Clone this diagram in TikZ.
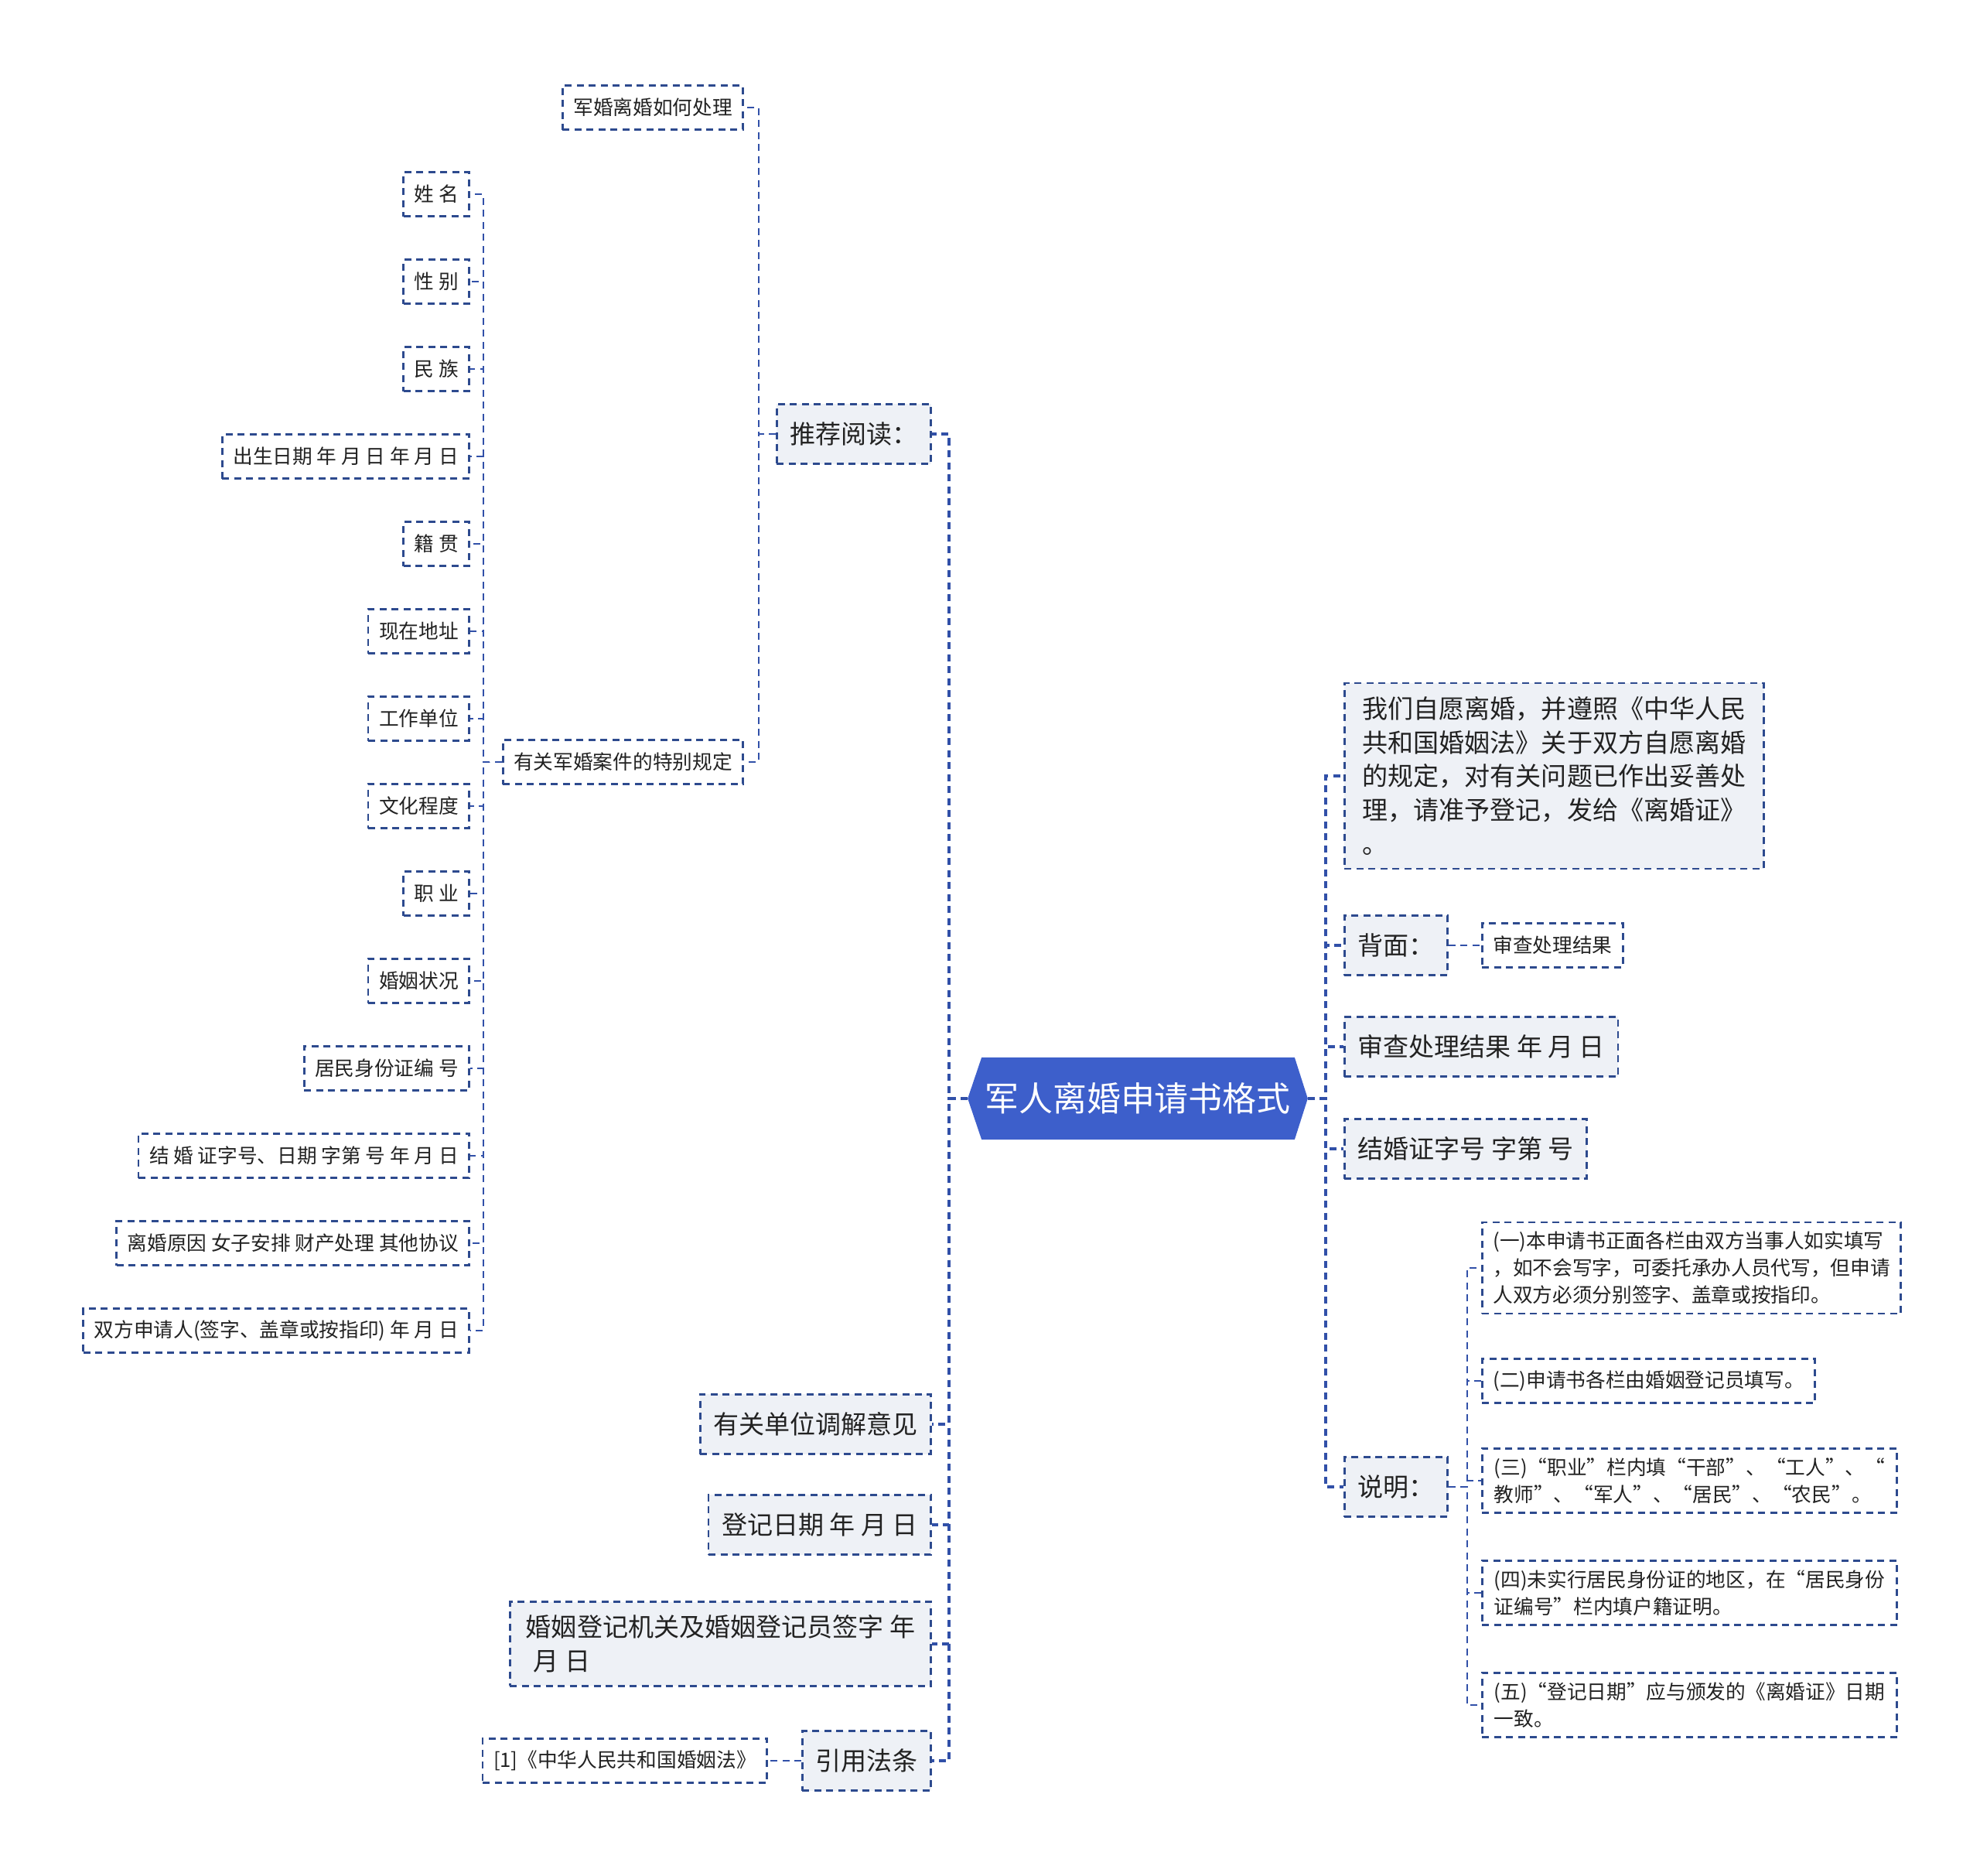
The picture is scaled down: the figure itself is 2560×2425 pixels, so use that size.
\documentclass[tikz,border=0pt]{standalone}
\usepackage{fontspec}
\setmainfont{Noto Sans CJK SC}
\newfontfamily\fwfont[RawFeature=+fwid]{Noto Sans CJK SC}
\newcommand{\zhlq}{{\fwfont “}}
\newcommand{\zhrq}{{\fwfont ”}}
\usetikzlibrary{backgrounds}
\definecolor{rootblue}{HTML}{3D5FCB}
\definecolor{linkblue}{HTML}{3150A8}
\definecolor{boxline}{HTML}{2D4A8E}
\definecolor{topicfill}{HTML}{EEF1F6}
\definecolor{inktext}{HTML}{222222}

\begin{document}
\begin{tikzpicture}[x=0.01cm, y=-0.01cm, every node/.style={text=inktext},
    rootbox/.style={minimum width=4.38cm, minimum height=1.05cm, inner sep=0pt, text=white, font=\fontsize{12.5}{15}\selectfont},
    topic/.style={draw=boxline, fill=topicfill, line width=0.026cm, dash pattern=on 0.09cm off 0.065cm, minimum height=0.77cm, inner xsep=0.17cm, inner ysep=0.17cm, align=left, font=\fontsize{9.4}{12.5}\selectfont},
    leaf/.style={draw=boxline, fill=white, line width=0.026cm, dash pattern=on 0.09cm off 0.065cm, minimum height=0.57cm, inner xsep=0.14cm, inner ysep=0.12cm, align=left, font=\fontsize{7.3}{10}\selectfont},
    trunk/.style={draw=linkblue, line width=0.036cm, dash pattern=on 0.09cm off 0.065cm},
    twig/.style={draw=linkblue, line width=0.024cm, dash pattern=on 0.09cm off 0.065cm}]
    \useasboundingbox (0,0) rectangle (2560,2425);

    % centre
    \node[rootbox] (root) at (1471,1420) {军人离婚申请书格式};
    \begin{scope}[on background layer]
        \fill[rootblue] ([xshift=0.18cm]root.north west) -- ([xshift=-0.17cm]root.north east) -- (root.east) -- ([xshift=-0.17cm]root.south east) -- ([xshift=0.18cm]root.south west) -- (root.west) -- cycle;
    \end{scope}

    % right side
    \node[topic, anchor=west, minimum width=5.42cm] (vow) at (1737,1003) {我们自愿离婚，并遵照《中华人民\\共和国婚姻法》关于双方自愿离婚\\的规定，对有关问题已作出妥善处\\理，请准予登记，发给《离婚证》\\。};
    \node[topic, anchor=west] (back) at (1737,1222) {背面：};
    \node[leaf, anchor=west] (backres) at (1915,1222) {审查处理结果};
    \node[topic, anchor=west] (review) at (1737,1353) {审查处理结果 年 月 日};
    \node[topic, anchor=west] (certno) at (1737,1485) {结婚证字号 字第 号};
    \node[topic, anchor=west] (notes) at (1737,1922) {说明：};
    \node[leaf, anchor=west, minimum width=5.36cm] (n1) at (1915,1639) {(一)本申请书正面各栏由双方当事人如实填写\\，如不会写字，可委托承办人员代写，但申请\\人双方必须分别签字、盖章或按指印。};
    \node[leaf, anchor=west] (n2) at (1915,1785) {(二)申请书各栏由婚姻登记员填写。};
    \node[leaf, anchor=west, minimum width=5.36cm] (n3) at (1915,1914) {(三)\zhlq 职业\zhrq 栏内填\zhlq 干部\zhrq 、\zhlq 工人\zhrq 、\zhlq\\教师\zhrq 、\zhlq 军人\zhrq 、\zhlq 居民\zhrq 、\zhlq 农民\zhrq 。};
    \node[leaf, anchor=west, minimum width=5.36cm] (n4) at (1915,2059) {(四)未实行居民身份证的地区，在\zhlq 居民身份\\证编号\zhrq 栏内填户籍证明。};
    \node[leaf, anchor=west, minimum width=5.36cm] (n5) at (1915,2204) {(五)\zhlq 登记日期\zhrq 应与颁发的《离婚证》日期\\一致。};

    % left side
    \node[topic, anchor=east] (read) at (1205,561) {推荐阅读：};
    \node[leaf, anchor=east] (howto) at (962,139) {军婚离婚如何处理};
    \node[leaf, anchor=east] (rules) at (962,985) {有关军婚案件的特别规定};
    \node[leaf, anchor=east] (f0) at (608,251) {姓 名};
    \node[leaf, anchor=east] (f1) at (608,364) {性 别};
    \node[leaf, anchor=east] (f2) at (608,477) {民 族};
    \node[leaf, anchor=east] (f3) at (608,590) {出生日期 年 月 日 年 月 日};
    \node[leaf, anchor=east] (f4) at (608,703) {籍 贯};
    \node[leaf, anchor=east] (f5) at (608,816) {现在地址};
    \node[leaf, anchor=east] (f6) at (608,929) {工作单位};
    \node[leaf, anchor=east] (f7) at (608,1042) {文化程度};
    \node[leaf, anchor=east] (f8) at (608,1155) {职 业};
    \node[leaf, anchor=east] (f9) at (608,1268) {婚姻状况};
    \node[leaf, anchor=east] (f10) at (608,1381) {居民身份证编 号};
    \node[leaf, anchor=east] (f11) at (608,1494) {结 婚 证字号、日期 字第 号 年 月 日};
    \node[leaf, anchor=east] (f12) at (608,1607) {离婚原因 女子安排 财产处理 其他协议};
    \node[leaf, anchor=east] (f13) at (608,1720) {双方申请人(签字、盖章或按指印) 年 月 日};
    \node[topic, anchor=east] (mediate) at (1205,1841) {有关单位调解意见};
    \node[topic, anchor=east] (regdate) at (1205,1971) {登记日期 年 月 日};
    \node[topic, anchor=east, minimum width=5.44cm] (office) at (1205,2125) {婚姻登记机关及婚姻登记员签字 年\\\hspace*{0.3em}月 日};
    \node[topic, anchor=east] (law) at (1205,2276) {引用法条};
    \node[leaf, anchor=east] (lawref) at (993,2276) {[1]《中华人民共和国婚姻法》};

    % connectors
    \draw[trunk] (root.east) -- ++(23,0) |- (vow.west);
    \draw[trunk] (root.east) -- ++(23,0) |- (back.west);
    \draw[trunk] (root.east) -- ++(23,0) |- (review.west);
    \draw[trunk] (root.east) -- ++(23,0) |- (certno.west);
    \draw[trunk] (root.east) -- ++(23,0) |- (notes.west);
    \draw[trunk] (root.west) -- ++(-24,0) |- (read.east);
    \draw[trunk] (root.west) -- ++(-24,0) |- (mediate.east);
    \draw[trunk] (root.west) -- ++(-24,0) |- (regdate.east);
    \draw[trunk] (root.west) -- ++(-24,0) |- (office.east);
    \draw[trunk] (root.west) -- ++(-24,0) |- (law.east);
    \draw[twig] (back.east) -- (backres.west);
    \draw[twig] (notes.east) -- ++(24,0) |- (n1.west);
    \draw[twig] (notes.east) -- ++(24,0) |- (n2.west);
    \draw[twig] (notes.east) -- ++(24,0) |- (n3.west);
    \draw[twig] (notes.east) -- ++(24,0) |- (n4.west);
    \draw[twig] (notes.east) -- ++(24,0) |- (n5.west);
    \draw[twig] (read.west) -- ++(-22,0) |- (howto.east);
    \draw[twig] (read.west) -- ++(-22,0) |- (rules.east);
    \draw[twig] (rules.west) -- ++(-24,0) |- (f0.east);
    \draw[twig] (rules.west) -- ++(-24,0) |- (f1.east);
    \draw[twig] (rules.west) -- ++(-24,0) |- (f2.east);
    \draw[twig] (rules.west) -- ++(-24,0) |- (f3.east);
    \draw[twig] (rules.west) -- ++(-24,0) |- (f4.east);
    \draw[twig] (rules.west) -- ++(-24,0) |- (f5.east);
    \draw[twig] (rules.west) -- ++(-24,0) |- (f6.east);
    \draw[twig] (rules.west) -- ++(-24,0) |- (f7.east);
    \draw[twig] (rules.west) -- ++(-24,0) |- (f8.east);
    \draw[twig] (rules.west) -- ++(-24,0) |- (f9.east);
    \draw[twig] (rules.west) -- ++(-24,0) |- (f10.east);
    \draw[twig] (rules.west) -- ++(-24,0) |- (f11.east);
    \draw[twig] (rules.west) -- ++(-24,0) |- (f12.east);
    \draw[twig] (rules.west) -- ++(-24,0) |- (f13.east);
    \draw[twig] (law.west) -- (lawref.east);
\end{tikzpicture}
\end{document}
